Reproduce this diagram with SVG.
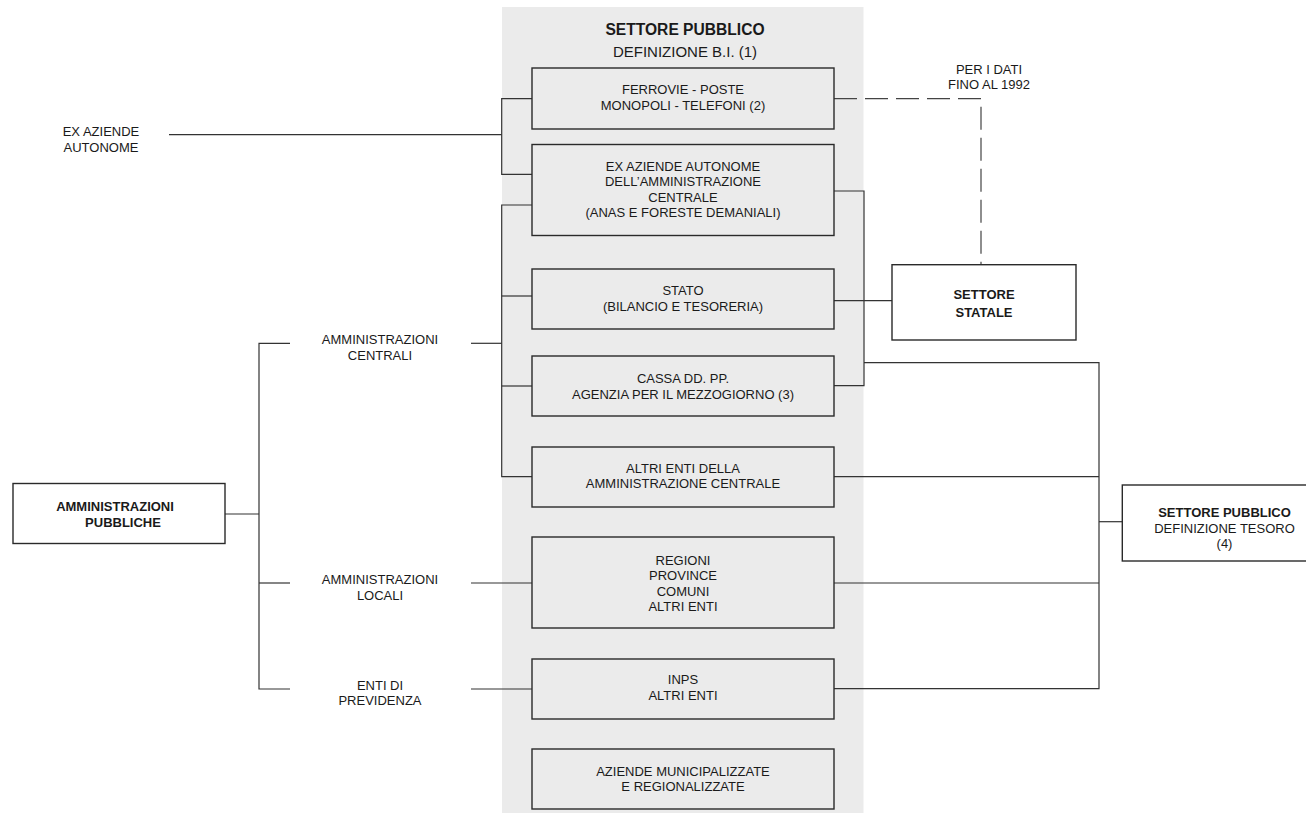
<svg xmlns="http://www.w3.org/2000/svg" width="1306" height="823" viewBox="0 0 1306 823">
<style>
  text { font-family: "Liberation Sans", Arial, sans-serif; font-size: 13px; fill: #1a1a1a; text-anchor: middle; }
  .b { font-weight: bold; }
  .box { fill: none; stroke: #2a2a2a; stroke-width: 1.4; }
  .wbox { fill: #ffffff; stroke: #2a2a2a; stroke-width: 1.4; }
  .ln { fill: none; stroke: #333333; stroke-width: 1.2; }
  .dash { fill: none; stroke: #444444; stroke-width: 1.2; stroke-dasharray: 23 8; }
</style>
<rect x="0" y="0" width="1306" height="823" fill="#ffffff"/>
<g id="settore-pubblico-bi">
  <rect x="502" y="7" width="361.5" height="806" fill="#ebebeb"/>
  <text x="685" y="35" class="b" style="font-size:15.6px">SETTORE PUBBLICO</text>
  <text x="685" y="57" style="font-size:15px">DEFINIZIONE B.I. (1)</text>
</g>
<g id="connectors">
  <!-- ex aziende autonome bracket -->
  <polyline class="ln" points="169,134.7 501.7,134.7"/>
  <polyline class="ln" points="532,98.7 501.7,98.7 501.7,174.3 532,174.3"/>
  <!-- amministrazioni centrali bus -->
  <polyline class="ln" points="532,205 501.7,205 501.7,476.7 532,476.7"/>
  <line class="ln" x1="501.7" y1="296" x2="532" y2="296"/>
  <line class="ln" x1="501.7" y1="386" x2="532" y2="386"/>
  <line class="ln" x1="471" y1="343.3" x2="501.7" y2="343.3"/>
  <!-- left bracket -->
  <polyline class="ln" points="290,343.3 259,343.3 259,689 290,689"/>
  <line class="ln" x1="259" y1="583" x2="290" y2="583"/>
  <line class="ln" x1="225" y1="514" x2="259" y2="514"/>
  <line class="ln" x1="471" y1="583" x2="532" y2="583"/>
  <line class="ln" x1="471" y1="689" x2="532" y2="689"/>
  <!-- settore statale bracket -->
  <polyline class="ln" points="834,191 864,191 864,385.7 834,385.7"/>
  <line class="ln" x1="834" y1="300.7" x2="892" y2="300.7"/>
  <!-- dashed -->
  <polyline class="dash" points="834,98.7 981,98.7 981,264.7"/>
  <!-- tesoro bus -->
  <polyline class="ln" points="864,362.7 1099,362.7 1099,688.7 834,688.7"/>
  <line class="ln" x1="834" y1="476.7" x2="1099" y2="476.7"/>
  <line class="ln" x1="834" y1="583" x2="1099" y2="583"/>
  <line class="ln" x1="1099" y1="521.7" x2="1122" y2="521.7"/>
</g>
<g id="ferrovie">
  <rect class="box" x="532" y="68" width="302" height="61"/>
  <text x="683" y="94">FERROVIE - POSTE</text>
  <text x="683" y="110">MONOPOLI - TELEFONI (2)</text>
</g>
<g id="ex-aziende-box">
  <rect class="box" x="532" y="144.5" width="302" height="91"/>
  <text x="683" y="171">EX AZIENDE AUTONOME</text>
  <text x="683" y="186.3">DELL’AMMINISTRAZIONE</text>
  <text x="683" y="201.6">CENTRALE</text>
  <text x="683" y="217">(ANAS E FORESTE DEMANIALI)</text>
</g>
<g id="stato">
  <rect class="box" x="532" y="269" width="302" height="60"/>
  <text x="683" y="295.3">STATO</text>
  <text x="683" y="311">(BILANCIO E TESORERIA)</text>
</g>
<g id="cassa">
  <rect class="box" x="532" y="356" width="302" height="60"/>
  <text x="683" y="383.3">CASSA DD. PP.</text>
  <text x="683" y="399">AGENZIA PER IL MEZZOGIORNO (3)</text>
</g>
<g id="altri-enti-centrale">
  <rect class="box" x="532" y="447" width="302" height="60"/>
  <text x="683" y="472.7">ALTRI ENTI DELLA</text>
  <text x="683" y="488.3">AMMINISTRAZIONE CENTRALE</text>
</g>
<g id="regioni">
  <rect class="box" x="532" y="537" width="302" height="91"/>
  <text x="683" y="565">REGIONI</text>
  <text x="683" y="580.3">PROVINCE</text>
  <text x="683" y="595.7">COMUNI</text>
  <text x="683" y="611">ALTRI ENTI</text>
</g>
<g id="inps">
  <rect class="box" x="532" y="659" width="302" height="60"/>
  <text x="683" y="684">INPS</text>
  <text x="683" y="700.3">ALTRI ENTI</text>
</g>
<g id="aziende-municipalizzate">
  <rect class="box" x="532" y="749" width="302" height="60"/>
  <text x="683" y="776">AZIENDE MUNICIPALIZZATE</text>
  <text x="683" y="791">E REGIONALIZZATE</text>
</g>
<g id="ex-aziende-label">
  <text x="101" y="136">EX AZIENDE</text>
  <text x="101" y="151.5">AUTONOME</text>
</g>
<g id="amm-centrali-label">
  <text x="380" y="344">AMMINISTRAZIONI</text>
  <text x="380" y="359.5">CENTRALI</text>
</g>
<g id="amm-locali-label">
  <text x="380" y="584">AMMINISTRAZIONI</text>
  <text x="380" y="599.5">LOCALI</text>
</g>
<g id="enti-previdenza-label">
  <text x="380" y="689.5">ENTI DI</text>
  <text x="380" y="705">PREVIDENZA</text>
</g>
<g id="amministrazioni-pubbliche">
  <rect class="wbox" x="13" y="483.5" width="212" height="60"/>
  <text x="115" y="510.7" class="b">AMMINISTRAZIONI</text>
  <text x="123" y="526.5" class="b">PUBBLICHE</text>
</g>
<g id="per-i-dati-label">
  <text x="989" y="74">PER I DATI</text>
  <text x="989" y="89">FINO AL 1992</text>
</g>
<g id="settore-statale">
  <rect class="wbox" x="892" y="264.7" width="184" height="75.3"/>
  <text x="984" y="299.3" class="b">SETTORE</text>
  <text x="984" y="316.5" class="b">STATALE</text>
</g>
<g id="settore-pubblico-tesoro">
  <rect class="wbox" x="1122.3" y="485" width="210" height="76"/>
  <text x="1224.5" y="516.7" class="b">SETTORE PUBBLICO</text>
  <text x="1224.5" y="532.7">DEFINIZIONE TESORO</text>
  <text x="1224.5" y="547.7">(4)</text>
</g>
</svg>
